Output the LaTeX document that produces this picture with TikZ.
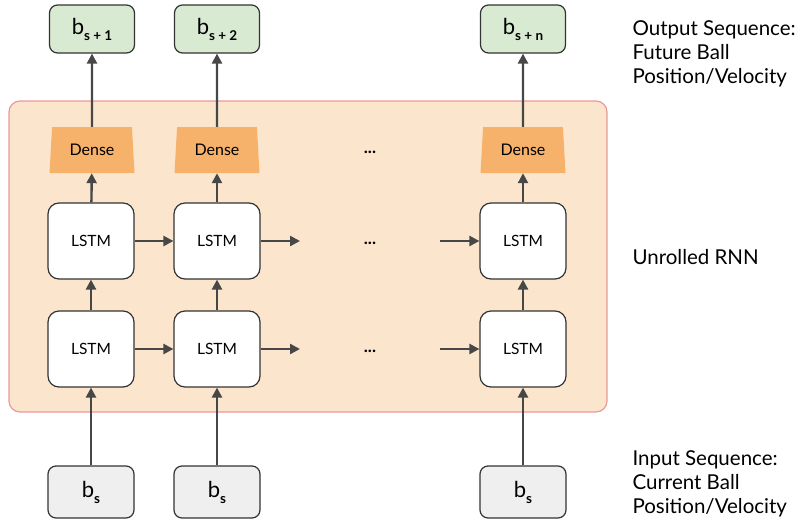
\documentclass[tikz,border=0pt]{standalone}
\usepackage{fontspec}
\setmainfont{Lato}
\usetikzlibrary{shapes.geometric, arrows.meta, positioning}
\definecolor{rnnfill}{HTML}{FCE5CD}
\definecolor{rnnline}{HTML}{EA9999}
\definecolor{densefill}{HTML}{F6B26B}
\definecolor{outfill}{HTML}{D9EAD3}
\definecolor{infill}{HTML}{EFEFEF}
\definecolor{edgegray}{HTML}{333333}
\definecolor{arrowgray}{HTML}{474747}

\newcommand{\bvar}[1]{{\fontsize{22}{22}\selectfont b}\raisebox{-6pt}{\fontsize{13.5}{13.5}\selectfont\bfseries #1}}

\tikzset{
  cell/.style={draw=edgegray, fill=white, line width=1.2pt, rounded corners=11pt,
    minimum width=86pt, minimum height=76pt, font=\fontsize{15.5}{15.5}\selectfont},
  outbox/.style={draw=edgegray, fill=outfill, line width=1.2pt, rounded corners=8pt,
    minimum width=85pt, minimum height=48pt},
  inbox/.style={draw=edgegray, fill=infill, line width=1.2pt, rounded corners=8pt,
    minimum width=86pt, minimum height=52pt},
  dense/.style={trapezium, trapezium stretches body=true, trapezium angle=77.5,
    fill=densefill, inner sep=0pt, minimum width=85pt, minimum height=46pt,
    font=\fontsize{16}{16}\selectfont},
  flow/.style={draw=arrowgray, line width=2.4pt, -{Triangle[length=10pt,width=10pt]}},
  dots/.style={font=\fontsize{17}{17}\selectfont\bfseries},
  side/.style={align=left, anchor=west, font=\fontsize{20.5}{24}\selectfont}
}

\begin{document}
\begin{tikzpicture}[x=1pt, y=-1pt]
  \useasboundingbox (0,0) rectangle (800,522);

  % unrolled network frame
  \node[draw=rnnline, fill=rnnfill, line width=1.2pt, rounded corners=11pt,
    minimum width=598pt, minimum height=311pt, inner sep=0pt] (rnn) at (308,256.5) {};

  % outputs
  \node[outbox] (out1) at (92,29) {\bvar{s + 1}};
  \node[outbox] (out2) at (217,29) {\bvar{s + 2}};
  \node[outbox] (out3) at (523,29) {\bvar{s + n}};

  % dense layers
  \node[dense] (dense1) at (92,150) {Dense};
  \node[dense] (dense2) at (217,150) {Dense};
  \node[dense] (dense3) at (523,150) {Dense};
  \node[dots] (dotsd) at (370,152) {...};

  % upper LSTM row
  \node[cell] (upper1) at (91,241) {LSTM};
  \node[cell] (upper2) at (217,241) {LSTM};
  \node[cell] (upper3) at (523,241) {LSTM};
  \node[dots] (dotsu) at (370,243) {...};
  \coordinate (upperout) at (300,241);
  \coordinate (upperin) at (440,241);

  % lower LSTM row
  \node[cell] (lower1) at (91,349) {LSTM};
  \node[cell] (lower2) at (217,349) {LSTM};
  \node[cell] (lower3) at (523,349) {LSTM};
  \node[dots] (dotsl) at (370,351) {...};
  \coordinate (lowerout) at (300,349);
  \coordinate (lowerin) at (440,349);

  % inputs
  \node[inbox] (in1) at (91,492) {\bvar{s}};
  \node[inbox] (in2) at (217,492) {\bvar{s}};
  \node[inbox] (in3) at (523,492) {\bvar{s}};

  % connectors
  \foreach \i in {1,2,3} {
    \draw[flow] (in\i) -- (lower\i);
    \draw[flow] (lower\i) -- (upper\i);
    \draw[flow] (upper\i) -- (dense\i);
    \draw[flow] (dense\i) -- (out\i);
  }
  \draw[flow] (upper1) -- (upper2);
  \draw[flow] (upper2) -- (upperout);
  \draw[flow] (upperin) -- (upper3);
  \draw[flow] (lower1) -- (lower2);
  \draw[flow] (lower2) -- (lowerout);
  \draw[flow] (lowerin) -- (lower3);

  % side labels
  \node[side] (outlabel) at (629,54) {Output Sequence:\\Future Ball\\Position/Velocity};
  \node[side] (rnnlabel) at (629,257) {Unrolled RNN};
  \node[side] (inlabel) at (629,484) {Input Sequence:\\Current Ball\\Position/Velocity};
\end{tikzpicture}
\end{document}
